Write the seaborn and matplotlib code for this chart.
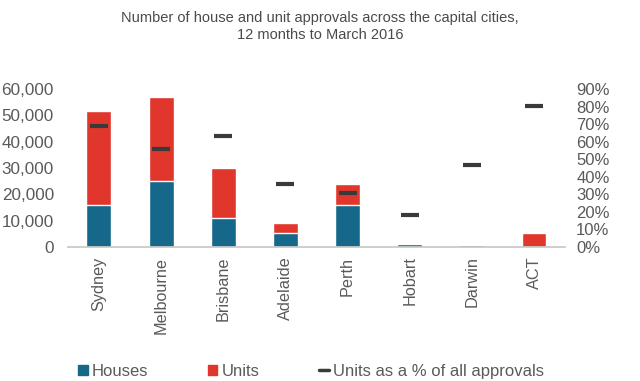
import numpy as np
import pandas as pd
import seaborn as sns
import matplotlib.pyplot as plt
from matplotlib.lines import Line2D
from matplotlib.patches import Patch

cities = ["Sydney", "Melbourne", "Brisbane", "Adelaide", "Perth", "Hobart", "Darwin", "ACT"]
houses = [16000, 25000, 11000, 5400, 15800, 1000, 900, 0]
units = [35500, 32000, 19000, 3700, 8200, 300, 300, 5300]
units_pct = [0.69, 0.56, 0.63, 0.36, 0.31, 0.18, 0.465, 0.805]

house_col = "#15688a"
unit_col = "#e0362c"
text_col = "#5a5a5a"

df = pd.DataFrame({"city": cities, "houses": houses, "units": units, "pct": units_pct})
df["total"] = df["houses"] + df["units"]

sns.set_theme(style="white")
plt.rcParams["font.family"] = ["Liberation Sans", "DejaVu Sans"]

fig = plt.figure(figsize=(6.4, 3.81), dpi=100)
ax = fig.add_axes([0.106, 0.352, 0.777, 0.414])

# stacked bars: total in red, houses drawn over it
sns.barplot(data=df, x="city", y="total", color=unit_col, width=0.4, saturation=1, ax=ax)
sns.barplot(data=df, x="city", y="houses", color=house_col, width=0.4, saturation=1, ax=ax)

ax.set_ylim(0, 60000)
ax.set_xlim(-0.5, 7.5)
ax.set_yticks(range(0, 60001, 10000))
ax.set_yticklabels([f"{v:,}" for v in range(0, 60001, 10000)])
ax.set_xlabel("")
ax.set_ylabel("")
ax.tick_params(axis="x", labelrotation=90, labelsize=11.7, colors=text_col, length=0, pad=7)
ax.tick_params(axis="y", labelsize=12.3, colors=text_col, length=0, pad=10)
for s in ["top", "right", "left"]:
    ax.spines[s].set_visible(False)
ax.spines["bottom"].set_color("#c8c8c8")

ax2 = ax.twinx()
sns.scatterplot(data=df, x="city", y="pct", marker="_", s=150, linewidth=3,
                color="#3a3a3a", ax=ax2, legend=False, zorder=5)
ax2.set_ylim(0, 0.9)
ax2.set_xlim(-0.5, 7.5)
ax2.set_yticks(np.arange(0, 0.91, 0.1))
ax2.set_yticklabels([f"{int(round(v * 100))}%" for v in np.arange(0, 0.91, 0.1)])
ax2.set_ylabel("")
ax2.tick_params(axis="y", labelsize=12, colors=text_col, length=0, pad=8)
for s in ["top", "right", "left", "bottom"]:
    ax2.spines[s].set_visible(False)

fig.text(0.5, 0.93, "Number of house and unit approvals across the capital cities,\n12 months to March 2016",
         ha="center", va="center", fontsize=10.5, color="#4a4a4a", linespacing=1.3)

handles = [Patch(color=house_col, label="Houses"),
           Patch(color=unit_col, label="Units"),
           Line2D([], [], color="#3a3a3a", lw=2.5, label="Units as a % of all approvals")]
fig.legend(handles=handles, loc="center left", bbox_to_anchor=(0.099, 0.026), ncol=3, frameon=False,
           fontsize=12, handlelength=0.55, handleheight=0.55, handletextpad=0.25, columnspacing=3.6,
           labelcolor=text_col)

fig.savefig("out.png", dpi=100)
